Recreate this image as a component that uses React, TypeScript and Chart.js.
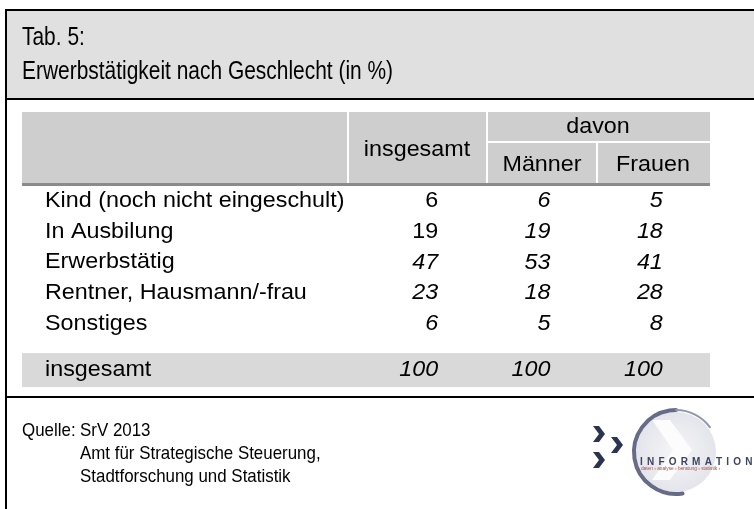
import React, { useEffect, useRef } from "react";
import { Chart, registerables } from "chart.js";

Chart.register(...registerables);

const TITLE_LINES = ["Tab. 5:", "Erwerbstätigkeit nach Geschlecht (in %)"];
const COLUMNS = ["insgesamt", "Männer", "Frauen"];
const GROUP_LABEL = "davon";
const ROW_LABELS = [
  "Kind (noch nicht eingeschult)",
  "In Ausbilung",
  "Erwerbstätig",
  "Rentner, Hausmann/-frau",
  "Sonstiges",
];
const TOTAL_LABEL = "insgesamt";
const INSGESAMT = [6, 19, 47, 23, 6];
const MAENNER = [6, 19, 53, 18, 5];
const FRAUEN = [5, 18, 41, 28, 8];
const TOTALS = [100, 100, 100];
const INSGESAMT_ITALIC = [false, false, true, true, true];
const SOURCE_LINES = ["SrV 2013", "Amt für Strategische Steuerung,", "Stadtforschung und Statistik"];
const SOURCE_LABEL = "Quelle:";

// row positions on the y scale (total row is set apart by an extra half row)
const ROW_POS = ROW_LABELS.map((_, i) => i);
const TOTAL_POS = ROW_LABELS.length + 0.5;

const FONT = '"Liberation Sans", Arial, sans-serif';

function txt(ctx: CanvasRenderingContext2D, s: string, x: number, y: number, size: number, opts: any = {}) {
  ctx.save();
  ctx.font = `${opts.italic ? "italic " : ""}${opts.bold ? "bold " : ""}${size}px ${FONT}`;
  ctx.fillStyle = opts.color || "#000";
  ctx.textBaseline = "middle";
  const sx = opts.sx || 1;
  const w = ctx.measureText(s).width * sx;
  let left = x;
  if (opts.align === "right") left = x - w;
  else if (opts.align === "center") left = x - w / 2;
  ctx.translate(left, y);
  ctx.scale(sx, 1);
  ctx.textAlign = "left";
  ctx.fillText(s, 0, 0);
  ctx.restore();
}

const BODY = 22;
const BODY_SX = 1.06;

const tablePlugin = {
  id: "tablePlugin",
  beforeDraw(chart: any) {
    const ctx: CanvasRenderingContext2D = chart.ctx;
    const W = chart.width;
    const H = chart.height;
    const yS = chart.scales.y;
    ctx.save();
    ctx.fillStyle = "#fff";
    ctx.fillRect(0, 0, W, H);
    // title band
    ctx.fillStyle = "#e0e0e0";
    ctx.fillRect(5, 9, W, 90);
    // frame lines
    ctx.fillStyle = "#000";
    ctx.fillRect(5, 9, W, 2);
    ctx.fillRect(5, 9, 2, H);
    ctx.fillRect(5, 98, W, 2);
    ctx.fillRect(5, 396, W, 2);

    // header
    const tl = 22, tr = 710, ht = 112, hb = 183;
    ctx.fillStyle = "#cecece";
    ctx.fillRect(tl, ht, tr - tl, hb - ht);
    ctx.fillStyle = "#fff";
    ctx.fillRect(347, ht, 2, hb - ht);
    ctx.fillRect(486, ht, 2, hb - ht);
    ctx.fillRect(487, 141, tr - 487, 2);
    ctx.fillRect(596, 142, 2, hb - 142);
    ctx.fillStyle = "#8a8a8a";
    ctx.fillRect(tl, hb, tr - tl, 3);

    // total band
    const ty = yS.getPixelForValue(TOTAL_POS);
    ctx.fillStyle = "#d9d9d9";
    ctx.fillRect(tl, ty - 17, tr - tl, 34);
    ctx.restore();
  },
  afterDraw(chart: any) {
    const ctx: CanvasRenderingContext2D = chart.ctx;
    const yS = chart.scales.y;
    // title
    txt(ctx, TITLE_LINES[0], 22, 38, 26, { sx: 0.805 });
    txt(ctx, TITLE_LINES[1], 22, 72, 26, { sx: 0.805 });
    // header labels
    txt(ctx, COLUMNS[0], 417, 150, BODY, { align: "center", sx: BODY_SX });
    txt(ctx, GROUP_LABEL, 598, 127, BODY, { align: "center", sx: BODY_SX });
    txt(ctx, COLUMNS[1], 542, 165, BODY, { align: "center", sx: BODY_SX });
    txt(ctx, COLUMNS[2], 653, 165, BODY, { align: "center", sx: BODY_SX });
    // row labels
    ROW_LABELS.forEach((l, i) => txt(ctx, l, 45, yS.getPixelForValue(ROW_POS[i]), BODY, { sx: BODY_SX }));
    txt(ctx, TOTAL_LABEL, 45, yS.getPixelForValue(TOTAL_POS), BODY, { sx: BODY_SX });
    // values from dataset points
    chart.data.datasets.forEach((ds: any, di: number) => {
      const meta = chart.getDatasetMeta(di);
      meta.data.forEach((pt: any, i: number) => {
        const italic = ds.italic[i];
        txt(ctx, String(ds.data[i].v), pt.x, pt.y, BODY, { align: "right", italic, sx: BODY_SX });
      });
    });
    // footer
    txt(ctx, SOURCE_LABEL, 22, 431, 19, { sx: 0.89 });
    SOURCE_LINES.forEach((l, i) => txt(ctx, l, 80, 431 + i * 23, 19, { sx: 0.89 }));
    drawLogo(ctx);
  },
};

function drawLogo(ctx: CanvasRenderingContext2D) {
  ctx.save();
  const cx = 676, cy = 452, r = 42;
  // light disk
  const g = ctx.createRadialGradient(cx, cy, 5, cx, cy, r);
  g.addColorStop(0, "#f4f4f6");
  g.addColorStop(1, "#e3e4ea");
  ctx.fillStyle = g;
  ctx.beginPath();
  ctx.arc(cx, cy, r - 2, 0, Math.PI * 2);
  ctx.fill();
  // white chevron inside
  ctx.fillStyle = "#fcfcfc";
  ctx.beginPath();
  ctx.moveTo(cx - 24, cy - 32);
  ctx.lineTo(cx - 6, cy - 32);
  ctx.lineTo(cx + 16, cy - 2);
  ctx.lineTo(cx - 6, cy + 28);
  ctx.lineTo(cx - 24, cy + 28);
  ctx.lineTo(cx - 3, cy - 2);
  ctx.closePath();
  ctx.fill();
  // arc
  ctx.strokeStyle = "#666c88";
  ctx.lineCap = "round";
  ctx.lineWidth = 4;
  ctx.beginPath();
  ctx.arc(cx, cy, r, Math.PI * 0.45, Math.PI * 1.5);
  ctx.stroke();
  ctx.lineWidth = 2;
  ctx.strokeStyle = "#9096ac";
  ctx.beginPath();
  ctx.arc(cx, cy, r, Math.PI * 1.5, Math.PI * 1.8);
  ctx.stroke();
  // dark chevrons
  ctx.fillStyle = "#2a3450";
  const chev = (x: number, y: number) => {
    ctx.beginPath();
    ctx.moveTo(x, y);
    ctx.lineTo(x + 6, y);
    ctx.lineTo(x + 12, y + 8);
    ctx.lineTo(x + 6, y + 16);
    ctx.lineTo(x, y + 16);
    ctx.lineTo(x + 6, y + 8);
    ctx.closePath();
    ctx.fill();
  };
  chev(593, 426);
  chev(611, 437);
  chev(593, 452);
  // INFORMATION
  ctx.fillStyle = "#3c4462";
  ctx.font = `bold 10px ${FONT}`;
  ctx.textBaseline = "middle";
  const word = "INFORMATION";
  let x = 640;
  for (const ch of word) {
    ctx.fillText(ch, x, 462);
    x += ctx.measureText(ch).width + 4.2;
  }
  ctx.fillStyle = "#b24a4a";
  ctx.font = `4.8px ${FONT}`;
  ctx.fillText("› daten › analyse › beratung › statistik ›", 638, 469);
  ctx.restore();
}

export default function App() {
  const ref = useRef<HTMLCanvasElement>(null);
  useEffect(() => {
    if (!ref.current) return;
    const mk = (vals: number[], col: string, italic: boolean[]) => ({
      label: col,
      data: [
        ...vals.map((v, i) => ({ x: col, y: ROW_POS[i], v })),
        { x: col, y: TOTAL_POS, v: TOTALS[COLUMNS.indexOf(col)] },
      ],
      italic: [...italic, true],
      pointRadius: 0,
      showLine: false,
    });
    const chart = new Chart(ref.current, {
      type: "scatter",
      data: {
        datasets: [
          mk(INSGESAMT, COLUMNS[0], INSGESAMT_ITALIC),
          mk(MAENNER, COLUMNS[1], MAENNER.map(() => true)),
          mk(FRAUEN, COLUMNS[2], FRAUEN.map(() => true)),
        ] as any,
      },
      options: {
        animation: false,
        responsive: false,
        devicePixelRatio: 1,
        layout: { padding: { left: 382, right: 35, top: 184, bottom: 122 } },
        plugins: { legend: { display: false }, tooltip: { enabled: false } },
        events: [],
        scales: {
          x: { type: "category", labels: COLUMNS, offset: true, display: false },
          y: { type: "linear", min: -0.55, max: 6.05, reverse: true, display: false },
        },
      } as any,
      plugins: [tablePlugin],
    });
    return () => chart.destroy();
  }, []);
  return (
    <div style={{ position: "absolute", left: 0, top: 0, width: 754, height: 509 }}>
      <canvas ref={ref} width={754} height={509} />
    </div>
  );
}
